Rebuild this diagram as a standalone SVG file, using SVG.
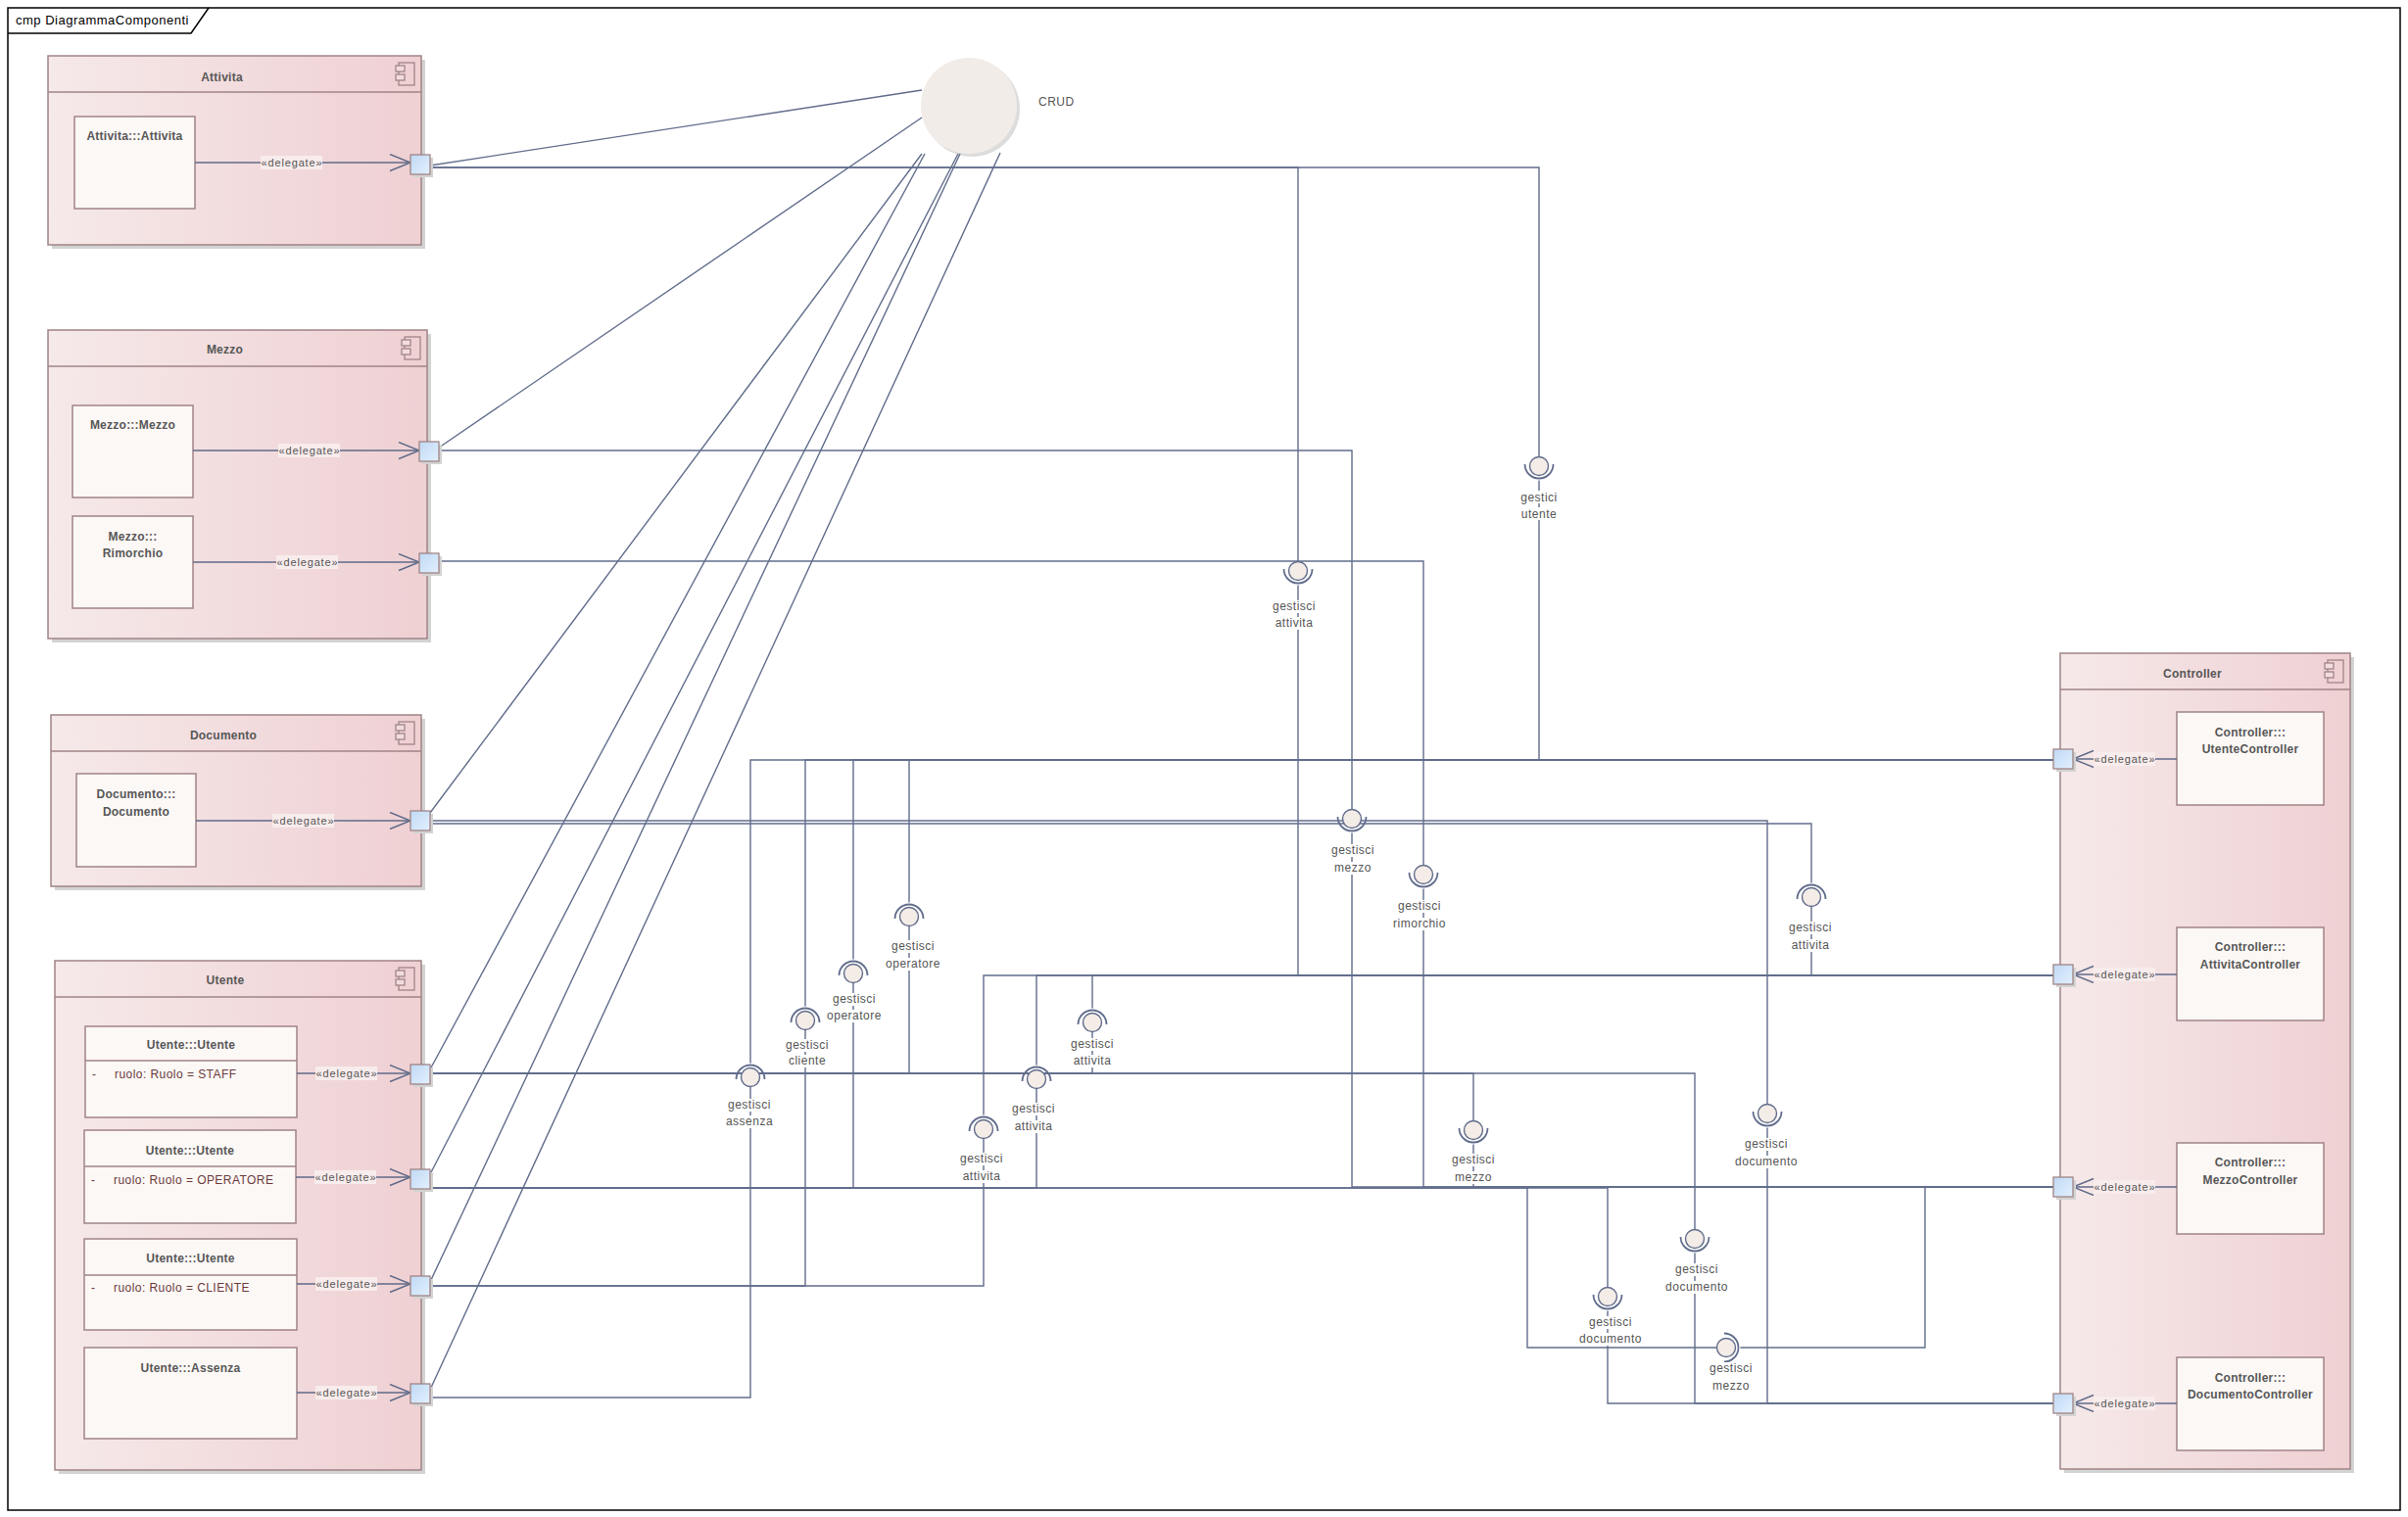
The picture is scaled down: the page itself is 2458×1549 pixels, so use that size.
<svg xmlns="http://www.w3.org/2000/svg" width="2458" height="1549" viewBox="0 0 2458 1549">
<defs>
  <linearGradient id="cmpFill" x1="0" y1="0" x2="1" y2="0">
    <stop offset="0" stop-color="#f6e9e9"/>
    <stop offset="1" stop-color="#efd0d3"/>
  </linearGradient>
  <linearGradient id="portFill" x1="0" y1="0" x2="1" y2="1">
    <stop offset="0" stop-color="#bfd9f5"/>
    <stop offset="1" stop-color="#e3f0fd"/>
  </linearGradient>
  <marker id="openArrow" markerUnits="userSpaceOnUse" viewBox="0 0 24 20" markerWidth="24" markerHeight="20" refX="22" refY="9" orient="auto">
    <path d="M1,0.5 L22,9 L1,17.5" fill="none" stroke="#5f6a88" stroke-width="1.4"/>
  </marker>
  <!-- UML component glyph, anchored at the owner's top-right corner -->
  <g id="cmpIcon" fill="none" stroke="#a08486" stroke-width="1.3">
    <rect x="-23" y="7" width="16" height="23"/>
    <rect x="-26" y="10" width="9" height="6" fill="#f3dcdd"/>
    <rect x="-26" y="19" width="9" height="6" fill="#f3dcdd"/>
  </g>
</defs>
<style>
  text { font-family: "Liberation Sans", Arial, sans-serif; }
  .frame { fill: none; stroke: #000; stroke-width: 1.5; }
  .frameTxt { font-size: 13px; fill: #000; letter-spacing: .5px; }
  .cmp { fill: url(#cmpFill); stroke: #a08486; stroke-width: 1.5; }
  .shadow { fill: #d3d3d3; }
  .hdr { stroke: #a08486; stroke-width: 1.5; fill: none; }
  .box { fill: #fcf8f6; stroke: #a08486; stroke-width: 1.5; }
  .port { fill: url(#portFill); stroke: #a08486; stroke-width: 1.3; }
  .ttl { font-size: 12px; font-weight: bold; fill: #575757; text-anchor: middle; letter-spacing: .25px; }
  .attr { font-size: 12px; fill: #6b3a3a; letter-spacing: .45px; }
  .wire { fill: none; stroke: #626d8c; stroke-width: 1.4; }
  .dlgLine { fill: none; stroke: #5f6a88; stroke-width: 1.4; marker-end: url(#openArrow); }
  .dlg { font-size: 11px; fill: #555; text-anchor: middle; letter-spacing: .85px; }
  .dlgBg { fill: #f8ecec; }
  .ilbl { font-size: 12px; fill: #555; text-anchor: middle; letter-spacing: .5px; }
  .lbg { fill: #fff; }
  .ball { fill: #f4ece7; stroke: #626d8c; stroke-width: 1.4; }
  .sock { fill: none; stroke: #626d8c; stroke-width: 1.8; }
  .crudTxt { font-size: 12px; fill: #555; letter-spacing: .5px; }
</style>

<rect width="2458" height="1549" fill="#fff"/>

<!-- diagram frame -->
<g id="frame">
  <rect class="frame" x="8" y="8" width="2442" height="1534"/>
  <path class="frame" d="M8,34 H195 L213,8"/>
  <text class="frameTxt" x="16" y="25">cmp DiagrammaComponenti</text>
</g>

<!-- component: Attivita -->
<g id="cmp-attivita">
  <rect class="shadow" x="53" y="61" width="381" height="193"/>
  <rect class="cmp" x="49" y="57" width="381" height="193"/>
  <line class="hdr" x1="49" y1="94" x2="430" y2="94"/>
  <text class="ttl" x="226.5" y="83">Attivita</text>
  <use href="#cmpIcon" x="430" y="57"/>
  <g id="cls-attivita">
    <rect class="box" x="76" y="119" width="123" height="94"/>
    <text class="ttl" x="137.5" y="143">Attivita:::Attivita</text>
  </g>
</g>

<!-- component: Mezzo -->
<g id="cmp-mezzo">
  <rect class="shadow" x="53" y="341" width="387" height="315"/>
  <rect class="cmp" x="49" y="337" width="387" height="315"/>
  <line class="hdr" x1="49" y1="374" x2="436" y2="374"/>
  <text class="ttl" x="229.5" y="361">Mezzo</text>
  <use href="#cmpIcon" x="436" y="337"/>
  <g id="cls-mezzo">
    <rect class="box" x="74" y="414" width="123" height="94"/>
    <text class="ttl" x="135.5" y="438">Mezzo:::Mezzo</text>
  </g>
  <g id="cls-rimorchio">
    <rect class="box" x="74" y="527" width="123" height="94"/>
    <text class="ttl" x="135.5" y="552">Mezzo:::</text>
    <text class="ttl" x="135.5" y="569">Rimorchio</text>
  </g>
</g>

<!-- component: Documento -->
<g id="cmp-documento">
  <rect class="shadow" x="56" y="734" width="378" height="175"/>
  <rect class="cmp" x="52" y="730" width="378" height="175"/>
  <line class="hdr" x1="52" y1="767" x2="430" y2="767"/>
  <text class="ttl" x="228" y="755">Documento</text>
  <use href="#cmpIcon" x="430" y="730"/>
  <g id="cls-documento">
    <rect class="box" x="78" y="790" width="122" height="95"/>
    <text class="ttl" x="139" y="815">Documento:::</text>
    <text class="ttl" x="139" y="833">Documento</text>
  </g>
</g>

<!-- component: Utente -->
<g id="cmp-utente">
  <rect class="shadow" x="60" y="985" width="374" height="520"/>
  <rect class="cmp" x="56" y="981" width="374" height="520"/>
  <line class="hdr" x1="56" y1="1018" x2="430" y2="1018"/>
  <text class="ttl" x="230" y="1005">Utente</text>
  <use href="#cmpIcon" x="430" y="981"/>
  <g id="cls-utente-staff">
    <rect class="box" x="87" y="1048" width="216" height="93"/>
    <line class="hdr" x1="87" y1="1083" x2="303" y2="1083"/>
    <text class="ttl" x="195" y="1071">Utente:::Utente</text>
    <text class="attr" x="94" y="1101">-</text>
    <text class="attr" x="117" y="1101">ruolo: Ruolo = STAFF</text>
  </g>
  <g id="cls-utente-operatore">
    <rect class="box" x="86" y="1154" width="216" height="95"/>
    <line class="hdr" x1="86" y1="1191" x2="302" y2="1191"/>
    <text class="ttl" x="194" y="1179">Utente:::Utente</text>
    <text class="attr" x="93" y="1209">-</text>
    <text class="attr" x="116" y="1209">ruolo: Ruolo = OPERATORE</text>
  </g>
  <g id="cls-utente-cliente">
    <rect class="box" x="86" y="1265" width="217" height="93"/>
    <line class="hdr" x1="86" y1="1302" x2="303" y2="1302"/>
    <text class="ttl" x="194.5" y="1289">Utente:::Utente</text>
    <text class="attr" x="93" y="1319">-</text>
    <text class="attr" x="116" y="1319">ruolo: Ruolo = CLIENTE</text>
  </g>
  <g id="cls-assenza">
    <rect class="box" x="86" y="1376" width="217" height="93"/>
    <text class="ttl" x="194.5" y="1401">Utente:::Assenza</text>
  </g>
</g>

<!-- component: Controller -->
<g id="cmp-controller">
  <rect class="shadow" x="2107" y="671" width="296" height="833"/>
  <rect class="cmp" x="2103" y="667" width="296" height="833"/>
  <line class="hdr" x1="2103" y1="704" x2="2399" y2="704"/>
  <text class="ttl" x="2238" y="692">Controller</text>
  <use href="#cmpIcon" x="2399" y="667"/>
  <g id="cls-utente-controller">
    <rect class="box" x="2222" y="727" width="150" height="95"/>
    <text class="ttl" x="2297" y="752">Controller:::</text>
    <text class="ttl" x="2297" y="769">UtenteController</text>
  </g>
  <g id="cls-attivita-controller">
    <rect class="box" x="2222" y="947" width="150" height="95"/>
    <text class="ttl" x="2297" y="971">Controller:::</text>
    <text class="ttl" x="2297" y="989">AttivitaController</text>
  </g>
  <g id="cls-mezzo-controller">
    <rect class="box" x="2222" y="1167" width="150" height="93"/>
    <text class="ttl" x="2297" y="1191">Controller:::</text>
    <text class="ttl" x="2297" y="1209">MezzoController</text>
  </g>
  <g id="cls-documento-controller">
    <rect class="box" x="2222" y="1386" width="150" height="95"/>
    <text class="ttl" x="2297" y="1411">Controller:::</text>
    <text class="ttl" x="2297" y="1428">DocumentoController</text>
  </g>
</g>

<!-- CRUD interface -->
<g id="crud">
  <circle cx="992" cy="111" r="49" fill="#dcdcdc"/>
  <circle cx="989" cy="108" r="49" fill="#f2ece8"/>
  <text class="crudTxt" x="1060" y="108">CRUD</text>
</g>

<!-- connectors -->
<g id="connectors">
  <!-- delegations inside the components -->
  <g id="delegates">
    <path class="dlgLine" d="M199,166 H419"/>
    <rect class="dlgBg" x="266" y="159" width="63" height="14"/>
    <text class="dlg" x="298" y="170">«delegate»</text>

    <path class="dlgLine" d="M197,460 H428"/>
    <rect class="dlgBg" x="284" y="453" width="63" height="14"/>
    <text class="dlg" x="316" y="464">«delegate»</text>

    <path class="dlgLine" d="M197,574 H428"/>
    <rect class="dlgBg" x="282" y="567" width="63" height="14"/>
    <text class="dlg" x="314" y="578">«delegate»</text>

    <path class="dlgLine" d="M200,838 H419"/>
    <rect class="dlgBg" x="278" y="831" width="63" height="14"/>
    <text class="dlg" x="310" y="842">«delegate»</text>

    <path class="dlgLine" d="M303,1096 H419"/>
    <rect class="dlgBg" x="322" y="1089" width="63" height="14"/>
    <text class="dlg" x="354" y="1100">«delegate»</text>

    <path class="dlgLine" d="M302,1202 H419"/>
    <rect class="dlgBg" x="321" y="1195" width="63" height="14"/>
    <text class="dlg" x="353" y="1206">«delegate»</text>

    <path class="dlgLine" d="M303,1311 H419"/>
    <rect class="dlgBg" x="322" y="1304" width="63" height="14"/>
    <text class="dlg" x="354" y="1315">«delegate»</text>

    <path class="dlgLine" d="M303,1422 H419"/>
    <rect class="dlgBg" x="322" y="1415" width="63" height="14"/>
    <text class="dlg" x="354" y="1426">«delegate»</text>

    <path class="dlgLine" d="M2222,775 H2116"/>
    <rect class="dlgBg" x="2137" y="768" width="63" height="14"/>
    <text class="dlg" x="2169" y="779">«delegate»</text>

    <path class="dlgLine" d="M2222,995 H2116"/>
    <rect class="dlgBg" x="2137" y="988" width="63" height="14"/>
    <text class="dlg" x="2169" y="999">«delegate»</text>

    <path class="dlgLine" d="M2222,1212 H2116"/>
    <rect class="dlgBg" x="2137" y="1205" width="63" height="14"/>
    <text class="dlg" x="2169" y="1216">«delegate»</text>

    <path class="dlgLine" d="M2222,1433 H2116"/>
    <rect class="dlgBg" x="2137" y="1426" width="63" height="14"/>
    <text class="dlg" x="2169" y="1437">«delegate»</text>
  </g>

  <!-- realisations of CRUD -->
  <g id="crud-links">
    <path class="wire" d="M439,169 L941,92"/>
    <path class="wire" d="M448,457 L941,120"/>
    <path class="wire" d="M439,830 L941,157"/>
    <path class="wire" d="M439,1092 L944,157"/>
    <path class="wire" d="M439,1199 L978,157"/>
    <path class="wire" d="M439,1309 L980,157"/>
    <path class="wire" d="M439,1419 L1021,156"/>
  </g>

  <!-- assembly connectors (gaps left where the socket meets the line) -->
  <g id="assemblies">
    <path class="wire" d="M439,171 H1571 V476 M1571,490.5 V776 H2096"/>
    <path class="wire" d="M439,171 H1325 V583 M1325,597.5 V996 H2096"/>
    <path class="wire" d="M448,460 H1380 V836 M1380,850.5 V1212 H2096"/>
    <path class="wire" d="M448,573 H1453 V893 M1453,907.5 V1212 H2096"/>
    <path class="wire" d="M439,838 H1804 V1137 M1804,1151.5 V1433 H2096"/>
    <path class="wire" d="M439,841 H1849 V901.5 M1849,916 V996 H2096"/>
    <path class="wire" d="M439,1096 H928 V936 M928,921.5 V776 H2096"/>
    <path class="wire" d="M439,1096 H1115 V1044 M1115,1029.5 V996 H2096"/>
    <path class="wire" d="M439,1096 H1504 V1154 M1504,1168.5 V1212 H2096"/>
    <path class="wire" d="M439,1096 H1730 V1265 M1730,1279.5 V1433 H2096"/>
    <path class="wire" d="M439,1213 H871 V994 M871,979.5 V776 H2096"/>
    <path class="wire" d="M439,1213 H1058 V1102 M1058,1087.5 V996 H2096"/>
    <path class="wire" d="M439,1213 H1641 V1324 M1641,1338.5 V1433 H2096"/>
    <path class="wire" d="M439,1213 H1559 V1376 H1762 M1776.5,1376 H1965 V1212 H2096"/>
    <path class="wire" d="M439,1313 H822 V1042 M822,1027.5 V776 H2096"/>
    <path class="wire" d="M439,1313 H1004 V1153 M1004,1138.5 V996 H2096"/>
    <path class="wire" d="M439,1427 H766 V1100 M766,1085.5 V776 H2096"/>
  </g>

  <!-- provided / required interface symbols with their names -->
  <g id="interfaces">
    <g transform="translate(1571,476)">
      <path class="sock" d="M-14.5,-2 A14.5,14.5 0 1 0 14.5,-2"/>
      <circle class="ball" r="9.5"/>
      <rect class="lbg" x="-20" y="25" width="40" height="13"/>
      <text class="ilbl" x="0" y="36">gestici</text>
      <rect class="lbg" x="-20" y="42" width="40" height="13"/>
      <text class="ilbl" x="0" y="53">utente</text>
    </g>
    <g transform="translate(1325,583)">
      <path class="sock" d="M-14.5,-2 A14.5,14.5 0 1 0 14.5,-2"/>
      <circle class="ball" r="9.5"/>
      <rect class="lbg" x="-28" y="30" width="48" height="13"/>
      <text class="ilbl" x="-4" y="40">gestisci</text>
      <rect class="lbg" x="-25" y="47" width="42" height="13"/>
      <text class="ilbl" x="-4" y="57">attivita</text>
    </g>
    <g transform="translate(1380,836)">
      <path class="sock" d="M-14.5,-2 A14.5,14.5 0 1 0 14.5,-2"/>
      <circle class="ball" r="9.5"/>
      <rect class="lbg" x="-23" y="26" width="48" height="13"/>
      <text class="ilbl" x="1" y="36">gestisci</text>
      <rect class="lbg" x="-20" y="44" width="42" height="13"/>
      <text class="ilbl" x="1" y="54">mezzo</text>
    </g>
    <g transform="translate(1453,893)">
      <path class="sock" d="M-14.5,-2 A14.5,14.5 0 1 0 14.5,-2"/>
      <circle class="ball" r="9.5"/>
      <rect class="lbg" x="-28" y="26" width="48" height="13"/>
      <text class="ilbl" x="-4" y="36">gestisci</text>
      <rect class="lbg" x="-33" y="44" width="58" height="13"/>
      <text class="ilbl" x="-4" y="54">rimorchio</text>
    </g>
    <g transform="translate(1804,1137)">
      <path class="sock" d="M-14.5,-2 A14.5,14.5 0 1 0 14.5,-2"/>
      <circle class="ball" r="9.5"/>
      <rect class="lbg" x="-25" y="25" width="48" height="13"/>
      <text class="ilbl" x="-1" y="35">gestisci</text>
      <rect class="lbg" x="-35" y="43" width="68" height="13"/>
      <text class="ilbl" x="-1" y="53">documento</text>
    </g>
    <g transform="translate(1849,916)">
      <path class="sock" d="M-14.5,2 A14.5,14.5 0 1 1 14.5,2"/>
      <circle class="ball" r="9.5"/>
      <rect class="lbg" x="-25" y="25" width="48" height="13"/>
      <text class="ilbl" x="-1" y="35">gestisci</text>
      <rect class="lbg" x="-22" y="43" width="42" height="13"/>
      <text class="ilbl" x="-1" y="53">attivita</text>
    </g>
    <g transform="translate(928,936)">
      <path class="sock" d="M-14.5,2 A14.5,14.5 0 1 1 14.5,2"/>
      <circle class="ball" r="9.5"/>
      <rect class="lbg" x="-20" y="24" width="48" height="13"/>
      <text class="ilbl" x="4" y="34">gestisci</text>
      <rect class="lbg" x="-26" y="42" width="60" height="13"/>
      <text class="ilbl" x="4" y="52">operatore</text>
    </g>
    <g transform="translate(1115,1044)">
      <path class="sock" d="M-14.5,2 A14.5,14.5 0 1 1 14.5,2"/>
      <circle class="ball" r="9.5"/>
      <rect class="lbg" x="-24" y="16" width="48" height="13"/>
      <text class="ilbl" x="0" y="26">gestisci</text>
      <rect class="lbg" x="-21" y="33" width="42" height="13"/>
      <text class="ilbl" x="0" y="43">attivita</text>
    </g>
    <g transform="translate(1504,1154)">
      <path class="sock" d="M-14.5,-2 A14.5,14.5 0 1 0 14.5,-2"/>
      <circle class="ball" r="9.5"/>
      <rect class="lbg" x="-24" y="24" width="48" height="13"/>
      <text class="ilbl" x="0" y="34">gestisci</text>
      <rect class="lbg" x="-21" y="42" width="42" height="13"/>
      <text class="ilbl" x="0" y="52">mezzo</text>
    </g>
    <g transform="translate(1730,1265)">
      <path class="sock" d="M-14.5,-2 A14.5,14.5 0 1 0 14.5,-2"/>
      <circle class="ball" r="9.5"/>
      <rect class="lbg" x="-22" y="25" width="48" height="13"/>
      <text class="ilbl" x="2" y="35">gestisci</text>
      <rect class="lbg" x="-32" y="43" width="68" height="13"/>
      <text class="ilbl" x="2" y="53">documento</text>
    </g>
    <g transform="translate(871,994)">
      <path class="sock" d="M-14.5,2 A14.5,14.5 0 1 1 14.5,2"/>
      <circle class="ball" r="9.5"/>
      <rect class="lbg" x="-23" y="20" width="48" height="13"/>
      <text class="ilbl" x="1" y="30">gestisci</text>
      <rect class="lbg" x="-29" y="37" width="60" height="13"/>
      <text class="ilbl" x="1" y="47">operatore</text>
    </g>
    <g transform="translate(1058,1102)">
      <path class="sock" d="M-14.5,2 A14.5,14.5 0 1 1 14.5,2"/>
      <circle class="ball" r="9.5"/>
      <rect class="lbg" x="-27" y="24" width="48" height="13"/>
      <text class="ilbl" x="-3" y="34">gestisci</text>
      <rect class="lbg" x="-24" y="42" width="42" height="13"/>
      <text class="ilbl" x="-3" y="52">attivita</text>
    </g>
    <g transform="translate(1641,1324)">
      <path class="sock" d="M-14.5,-2 A14.5,14.5 0 1 0 14.5,-2"/>
      <circle class="ball" r="9.5"/>
      <rect class="lbg" x="-21" y="20" width="48" height="13"/>
      <text class="ilbl" x="3" y="30">gestisci</text>
      <rect class="lbg" x="-31" y="37" width="68" height="13"/>
      <text class="ilbl" x="3" y="47">documento</text>
    </g>
    <g transform="translate(1762,1376)">
      <path class="sock" d="M-2,-14.5 A14.5,14.5 0 1 1 -2,14.5"/>
      <circle class="ball" r="9.5"/>
      <rect class="lbg" x="-19" y="15" width="48" height="13"/>
      <text class="ilbl" x="5" y="25">gestisci</text>
      <rect class="lbg" x="-16" y="33" width="42" height="13"/>
      <text class="ilbl" x="5" y="43">mezzo</text>
    </g>
    <g transform="translate(822,1042)">
      <path class="sock" d="M-14.5,2 A14.5,14.5 0 1 1 14.5,2"/>
      <circle class="ball" r="9.5"/>
      <rect class="lbg" x="-22" y="19" width="48" height="13"/>
      <text class="ilbl" x="2" y="29">gestisci</text>
      <rect class="lbg" x="-20" y="35" width="44" height="13"/>
      <text class="ilbl" x="2" y="45">cliente</text>
    </g>
    <g transform="translate(1004,1153)">
      <path class="sock" d="M-14.5,2 A14.5,14.5 0 1 1 14.5,2"/>
      <circle class="ball" r="9.5"/>
      <rect class="lbg" x="-26" y="24" width="48" height="13"/>
      <text class="ilbl" x="-2" y="34">gestisci</text>
      <rect class="lbg" x="-23" y="42" width="42" height="13"/>
      <text class="ilbl" x="-2" y="52">attivita</text>
    </g>
    <g transform="translate(766,1100)">
      <path class="sock" d="M-14.5,2 A14.5,14.5 0 1 1 14.5,2"/>
      <circle class="ball" r="9.5"/>
      <rect class="lbg" x="-25" y="22" width="48" height="13"/>
      <text class="ilbl" x="-1" y="32">gestisci</text>
      <rect class="lbg" x="-27" y="39" width="52" height="13"/>
      <text class="ilbl" x="-1" y="49">assenza</text>
    </g>
  </g>
</g>

<!-- ports -->
<g id="ports">
  <g id="port-attivita"><rect class="shadow" x="422" y="161" width="20" height="20"/><rect class="port" x="419" y="158" width="20" height="20"/></g>
  <g id="port-mezzo"><rect class="shadow" x="431" y="454" width="20" height="20"/><rect class="port" x="428" y="451" width="20" height="20"/></g>
  <g id="port-rimorchio"><rect class="shadow" x="431" y="568" width="20" height="20"/><rect class="port" x="428" y="565" width="20" height="20"/></g>
  <g id="port-documento"><rect class="shadow" x="422" y="831" width="20" height="20"/><rect class="port" x="419" y="828" width="20" height="20"/></g>
  <g id="port-utente-staff"><rect class="shadow" x="422" y="1090" width="20" height="20"/><rect class="port" x="419" y="1087" width="20" height="20"/></g>
  <g id="port-utente-operatore"><rect class="shadow" x="422" y="1197" width="20" height="20"/><rect class="port" x="419" y="1194" width="20" height="20"/></g>
  <g id="port-utente-cliente"><rect class="shadow" x="422" y="1306" width="20" height="20"/><rect class="port" x="419" y="1303" width="20" height="20"/></g>
  <g id="port-assenza"><rect class="shadow" x="422" y="1416" width="20" height="20"/><rect class="port" x="419" y="1413" width="20" height="20"/></g>
  <g id="port-utente-controller"><rect class="shadow" x="2099" y="768" width="20" height="20"/><rect class="port" x="2096" y="765" width="20" height="20"/></g>
  <g id="port-attivita-controller"><rect class="shadow" x="2099" y="988" width="20" height="20"/><rect class="port" x="2096" y="985" width="20" height="20"/></g>
  <g id="port-mezzo-controller"><rect class="shadow" x="2099" y="1205" width="20" height="20"/><rect class="port" x="2096" y="1202" width="20" height="20"/></g>
  <g id="port-documento-controller"><rect class="shadow" x="2099" y="1426" width="20" height="20"/><rect class="port" x="2096" y="1423" width="20" height="20"/></g>
</g>
</svg>
